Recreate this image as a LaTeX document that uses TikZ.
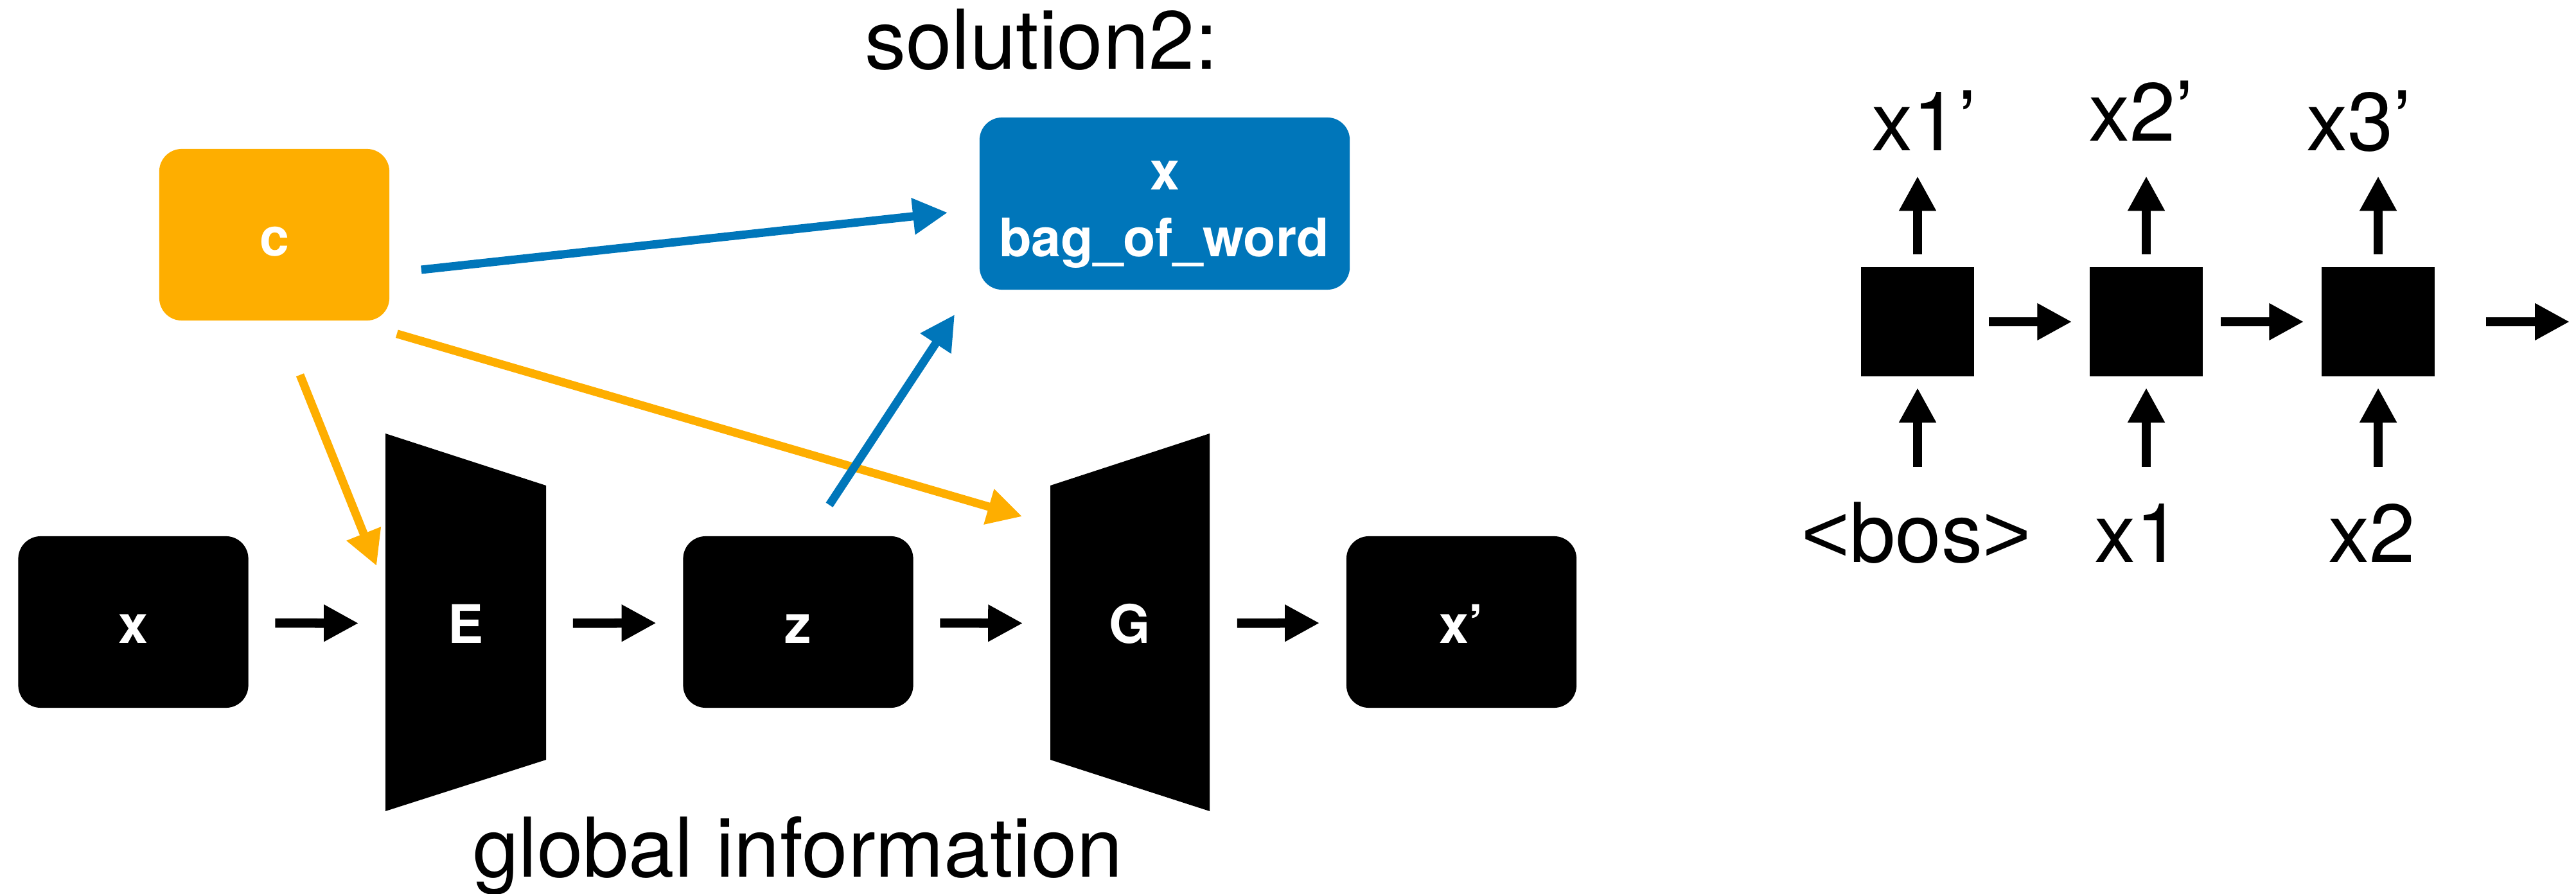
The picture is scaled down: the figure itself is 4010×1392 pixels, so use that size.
\documentclass[tikz,border=0pt]{standalone}
\usepackage{fontspec}
\setmainfont{TeX Gyre Heros}
\newfontfamily\symfont{Liberation Sans}
\usetikzlibrary{arrows.meta,calc}
\definecolor{kOrange}{RGB}{254,174,0}
\definecolor{kBlue}{RGB}{0,118,186}
\newcommand\bigtxt{\fontsize{36.5}{44}\selectfont}
\newcommand\boxtxt{\fontsize{23.5}{28}\selectfont\bfseries}
\tikzset{
  blkbox/.style={fill=black, rounded corners=0.35cm, inner sep=0pt,
    minimum width=3.58cm, minimum height=2.67cm, text=white, font=\boxtxt,
    text height=0.65cm, text depth=0pt},
  trap/.style={inner sep=0pt, minimum width=2.5cm, minimum height=5.88cm,
    text=white, font=\boxtxt, text height=0.65cm, text depth=0pt},
  sqbox/.style={fill=black, inner sep=0pt, minimum width=1.76cm, minimum height=1.70cm},
  lbl/.style={font=\bigtxt, inner sep=0pt, anchor=base},
  inlbl/.style={font=\boxtxt, text=white, inner sep=0pt, anchor=base},
  blkarrow/.style={draw=black, line width=0.145cm,
    -{Triangle[length=0.54cm, width=0.54cm]}},
  colarrow/.style={line width=0.13cm,
    -{Triangle[length=0.54cm, width=0.54cm]}},
}
\begin{document}
\begin{tikzpicture}[x=0.01cm, y=-0.01cm]
\useasboundingbox (0,0) rectangle (4010,1392);

% ---------- encoder / generator pipeline ----------
\node[blkbox] (x) at (207.5,968.5) {x};
\fill (600,675) -- (850,756) -- (850,1183) -- (600,1263) -- cycle;
\node[trap] (E) at (725,969) {E};
\node[blkbox] (z) at (1242.5,968.5) {z};
\fill (1635,756) -- (1883,675) -- (1883,1263) -- (1635,1183) -- cycle;
\node[trap] (G) at (1759,969) {G};
\node[blkbox] (xp) at (2275,968.5) {x’};

\foreach \a/\b in {x/E, E/z, z/G, G/xp}
  \draw[blkarrow, shorten <=0.41cm, shorten >=0.41cm]
    ([yshift=-0.015cm]\a.east) -- ([yshift=-0.015cm]\b.west);

% condition and bag-of-words target
\node[blkbox, fill=kOrange] (c) at (427,365.5) {c};
\node[fill=kBlue, rounded corners=0.35cm, inner sep=0pt,
      minimum width=5.76cm, minimum height=2.68cm] (bow) at (1813,317) {};
\node[inlbl] (bowx) at (1813,296) {x};
\node[inlbl] (bowt) at (1812,400) {bag\_of\_word};

\node[lbl] (title) at (1621,108) {solution2:};
\node[lbl] (glob) at (1242,1365) {global information};

% conditioning arrows
\draw[colarrow, draw=kOrange, fill=kOrange]
  ($(c.south)+(40,84)$) -- ($(E.north west)+(-13,207)$);
\draw[colarrow, draw=kOrange, fill=kOrange]
  ($(c.south east)+(11,20)$) -- ($(G.north west)+(-42,130)$);
\draw[colarrow, draw=kBlue, fill=kBlue]
  ($(c.east)+(49,54.5)$) -- ($(bow.west)+(-49,14)$);
\draw[colarrow, draw=kBlue, fill=kBlue]
  ($(z.north)+(48.5,-48)$) -- ($(bow.south west)+(-38,38)$);

% ---------- autoregressive decoder ----------
\node[sqbox] (s1) at (2985,501) {};
\node[sqbox] (s2) at (3341,501) {};
\node[sqbox] (s3) at (3702,501) {};

\node[lbl] (o1) at (2995,235) {x1’};
\node[lbl] (o2) at (3333,220) {x2’};
\node[lbl] (o3) at (3672,235) {x3’};
\node[lbl] (i1) at (2983,875) {{\symfont<}bos{\symfont>}};
\node[lbl] (i2) at (3328,875) {x1};
\node[lbl] (i3) at (3692,875) {x2};

\foreach \s/\k in {s1/1, s2/2, s3/3} {
  \path (\s.north) ++(0,-141) coordinate (top\k);
  \path (\s.south) ++(0,140) coordinate (bot\k);
  \draw[blkarrow, shorten <=0.19cm] (\s.north) -- (top\k);
  \draw[blkarrow, shorten >=0.17cm] (bot\k) -- (\s.south);
}
\draw[blkarrow, shorten <=0.22cm, shorten >=0.27cm] (s1.east) -- (s2.west);
\draw[blkarrow, shorten <=0.27cm, shorten >=0.27cm] (s2.east) -- (s3.west);
\coordinate (tail) at (4000,501);
\draw[blkarrow, shorten <=0.79cm] (s3.east) -- (tail);
\end{tikzpicture}
\end{document}
